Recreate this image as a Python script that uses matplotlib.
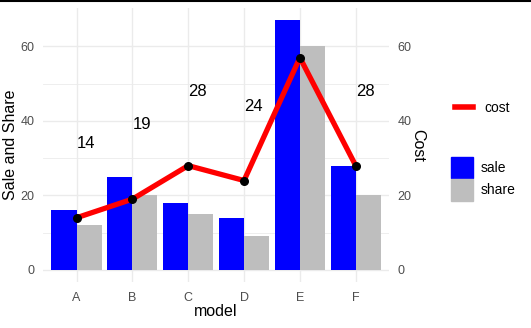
import numpy as np
import matplotlib.pyplot as plt
from matplotlib.lines import Line2D
from matplotlib.patches import Patch

plt.rcParams['font.family'] = ['Liberation Sans', 'DejaVu Sans']

models = ['A', 'B', 'C', 'D', 'E', 'F']
sale = [16, 25, 18, 14, 67, 28]
share = [12, 20, 15, 9, 60, 20]
cost = [14, 19, 28, 24, 57, 28]

fig = plt.figure(figsize=(5.31, 3.28), dpi=100)
ax = fig.add_axes([0.081, 0.139, 0.652, 0.837])

x = np.arange(1, len(models) + 1)
w = 0.45
ax.bar(x - w / 2, sale, width=w, color='#0000FF', zorder=2)
ax.bar(x + w / 2, share, width=w, color='#BEBEBE', zorder=2)
ax.plot(x, cost, color='#FF0000', lw=3.8, zorder=3, solid_capstyle='butt')
ax.scatter(x, cost, color='black', s=30, zorder=4)

ymin, ymax = -3.35, 70.35
for xi, c in zip(x, cost):
    if c + 20 < ymax:
        ax.text(xi, c + 20, str(c), ha='left', va='center', fontsize=12, color='black')

ax.set_xlim(0.4, 6.6)
ax.set_ylim(ymin, ymax)
ax.set_xticks(x)
ax.set_xticklabels(models)
ax.set_yticks([0, 20, 40, 60])
ax.set_yticks([10, 30, 50], minor=True)
ax.tick_params(which='both', length=0, colors='#4D4D4D', labelsize=9, pad=7)
ax.tick_params(axis='y', pad=6)
ax.grid(which='major', color='#EBEBEB', lw=1.0, zorder=0)
ax.grid(which='minor', axis='y', color='#EBEBEB', lw=0.6, zorder=0)
for s in ax.spines.values():
    s.set_visible(False)
ax.set_xlabel('model', fontsize=11.5, labelpad=0)
ax.set_ylabel('Sale and Share', fontsize=11.5, labelpad=2)

ax2 = ax.twinx()
ax2.set_ylim(ymin, ymax)
ax2.set_yticks([0, 20, 40, 60])
ax2.tick_params(length=0, colors='#4D4D4D', labelsize=9, pad=6)
for s in ax2.spines.values():
    s.set_visible(False)
ax2.set_ylabel('Cost', fontsize=11.5, rotation=-90, labelpad=10)

fig.legend(handles=[Line2D([], [], color='#FF0000', lw=4)], labels=['cost'],
           loc='center left', bbox_to_anchor=(0.833, 0.672), frameon=False,
           fontsize=10, handlelength=1.3, handletextpad=0.8)
fig.legend(handles=[Patch(color='#0000FF'), Patch(color='#BEBEBE')], labels=['sale', 'share'],
           loc='center left', bbox_to_anchor=(0.826, 0.455), frameon=False,
           fontsize=10, handlelength=1.6, handleheight=2.0, labelspacing=0.05,
           handletextpad=0.5)

fig.add_artist(Line2D([0, 1], [0.997, 0.997], color='black', lw=1.5))

fig.savefig('out.png', dpi=100)
